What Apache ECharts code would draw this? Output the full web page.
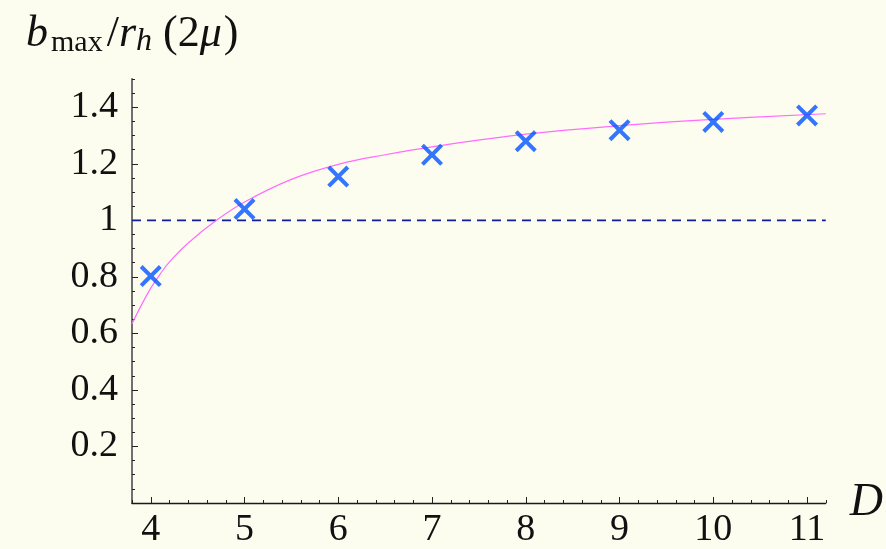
<!DOCTYPE html>
<html><head><meta charset="utf-8">
<script src="https://cdn.jsdelivr.net/npm/echarts@6/dist/echarts.min.js"></script>
<style>html,body{margin:0;padding:0;background:#fdfdef}#c{width:886px;height:549px}</style>
</head><body><div id="c"></div>
<script>
// Data
const dims = [4, 5, 6, 7, 8, 9, 10, 11];
const bmaxRatio = [0.803, 1.04, 1.155, 1.232, 1.28, 1.319, 1.348, 1.371];
const curveD = [3.8, 3.9, 4.0, 4.1, 4.2, 4.4, 4.7, 5.0, 5.5, 6.0, 6.5, 7.0, 8.0, 9.0, 10.0, 11.2];
const curveVal = [0.634, 0.70, 0.76, 0.81, 0.853, 0.92, 1.0, 1.065, 1.145, 1.198, 1.232, 1.26, 1.305, 1.335, 1.357, 1.377];
const refLevel = 1;
const xTickLabels = [4, 5, 6, 7, 8, 9, 10, 11];
const yTickLabels = [0.2, 0.4, 0.6, 0.8, 1, 1.2, 1.4];
const xMin = 3.8, xMax = 11.2, yMin = 0, yMax = 1.5;

// minor tick positions (axis decoration)
const xMinor = [];
for (let k = 19; k <= 56; k++) xMinor.push(Math.round(k * 0.2 * 100) / 100);
const yMinor = [];
for (let k = 1; k <= 30; k++) yMinor.push(Math.round(k * 0.05 * 100) / 100);

const serif = 'Liberation Serif';
const crossPath = 'path://M0,13L13,0L50,37L87,0L100,13L63,50L100,87L87,100L50,63L13,100L0,87L37,50Z';

const tok = (extra) => Object.assign({fontFamily: serif, fontWeight: 'normal', color: '#111', fontSize: 44, lineHeight: 48}, extra);

const chart = echarts.init(document.getElementById('c'), null, {renderer: 'canvas'});
chart.setOption({
  animation: false,
  backgroundColor: '#fdfdef',
  title: {
    left: 21, top: 5,
    text: '{b|b}{sub|max}{n|/}{r|r}{h|h}{n2|(2}{mu|μ}{n|)}',
    textStyle: {
      fontWeight: 'normal',
      rich: {
        b: tok({fontStyle: 'italic', padding: [0, 3, 0, 0]}),
        sub: tok({fontSize: 30, lineHeight: 30, verticalAlign: 'bottom', padding: [0, 4, 0, 0]}),
        n: tok({}),
        n2: tok({padding: [0, 0, 0, 5]}),
        r: tok({fontStyle: 'italic'}),
        h: tok({fontStyle: 'italic', fontSize: 32, lineHeight: 30, verticalAlign: 'bottom', padding: [0, 6, 0, 0]}),
        mu: tok({fontStyle: 'italic', padding: [0, 2, 0, 0]})
      }
    }
  },
  grid: {left: 132, right: 60, top: 79, bottom: 41, containLabel: false},
  xAxis: [{
    type: 'value', min: xMin, max: xMax, position: 'bottom',
    axisLine: {lineStyle: {color: '#1a1a1a', width: 1.3}},
    axisTick: {inside: true, length: 6, customValues: xTickLabels, lineStyle: {color: '#222', width: 1}},
    axisLabel: {customValues: xTickLabels, fontFamily: serif, fontSize: 38, color: '#111', margin: 8},
    splitLine: {show: false},
    name: 'D', nameLocation: 'end', nameGap: 24,
    nameTextStyle: {fontFamily: serif, fontStyle: 'italic', fontSize: 46, color: '#111', verticalAlign: 'middle'}
  }, {
    type: 'value', min: xMin, max: xMax, position: 'bottom',
    axisLine: {show: false},
    axisTick: {inside: true, length: 3, customValues: xMinor, lineStyle: {color: '#222', width: 1}},
    axisLabel: {show: false}, splitLine: {show: false}
  }],
  yAxis: [{
    type: 'value', min: yMin, max: yMax, position: 'left',
    axisLine: {lineStyle: {color: '#707070', width: 2}},
    axisTick: {inside: true, length: 6, customValues: yTickLabels, lineStyle: {color: '#222', width: 1}},
    axisLabel: {customValues: yTickLabels, fontFamily: serif, fontSize: 38, color: '#111', margin: 14},
    splitLine: {show: false}
  }, {
    type: 'value', min: yMin, max: yMax, position: 'left',
    axisLine: {show: false},
    axisTick: {inside: true, length: 3, customValues: yMinor, lineStyle: {color: '#222', width: 1}},
    axisLabel: {show: false}, splitLine: {show: false}
  }],
  series: [{
    type: 'line', xAxisIndex: 0, yAxisIndex: 0,
    data: [[xMin, refLevel], [xMax, refLevel]],
    symbol: 'none', lineStyle: {color: '#0e1e9c', width: 1.6, type: [9, 6]}, z: 2
  }, {
    type: 'line', xAxisIndex: 0, yAxisIndex: 0,
    data: curveD.map((d, i) => [d, curveVal[i]]),
    smooth: 0.4, symbol: 'none', lineStyle: {color: '#ff6cff', width: 1.2}, z: 3
  }, {
    type: 'scatter', xAxisIndex: 0, yAxisIndex: 0,
    data: dims.map((d, i) => [d, bmaxRatio[i]]),
    symbol: crossPath, symbolSize: 22,
    itemStyle: {color: '#0052ff'}, z: 5
  }]
});
</script></body></html>
